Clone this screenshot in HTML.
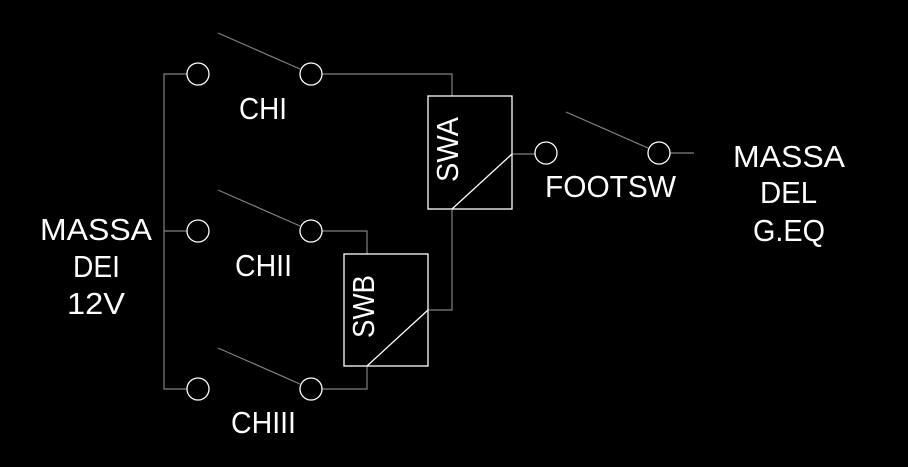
<!DOCTYPE html>
<html><head><meta charset="utf-8"><style>
html,body{margin:0;padding:0;background:#000;}
svg{display:block;}
text{font-family:"Liberation Sans",sans-serif;font-size:31px;fill:#fff;}
</style></head><body>
<svg width="908" height="467" viewBox="0 0 908 467" xmlns="http://www.w3.org/2000/svg">
<g stroke="#808080" stroke-width="1.2" fill="none">
<polyline points="187,74 164,74 164,389 187,389"/>
<line x1="164" y1="231" x2="187" y2="231"/>
<polyline points="322,74 452,74 452,96"/>
<polyline points="322,231 367,231 367,254"/>
<polyline points="322,389 367,389 367,366"/>
<polyline points="428,310 452,310 452,209"/>
<line x1="512" y1="154" x2="535" y2="154"/>
<line x1="670" y1="153" x2="694" y2="153"/>
<line x1="218" y1="33" x2="300" y2="69"/>
<line x1="218" y1="190" x2="300" y2="226"/>
<line x1="218" y1="348" x2="300" y2="384"/>
<line x1="566" y1="112" x2="648" y2="148"/>
</g>
<g stroke="#fff" stroke-width="1.3" fill="none">
<circle cx="198" cy="74" r="11"/><circle cx="311" cy="74" r="11"/>
<circle cx="198" cy="231" r="11"/><circle cx="311" cy="231" r="11"/>
<circle cx="198" cy="389" r="11"/><circle cx="311" cy="389" r="11"/>
<circle cx="546" cy="153" r="11"/><circle cx="659" cy="153" r="11"/>
<rect x="428" y="96" width="84" height="113"/>
<rect x="344" y="254" width="84" height="112"/>
<line x1="452" y1="209" x2="512" y2="154"/>
<line x1="367" y1="366" x2="428" y2="310"/>
</g>
<text x="239" y="119" textLength="48" lengthAdjust="spacingAndGlyphs">CHI</text>
<text x="235" y="276" textLength="57" lengthAdjust="spacingAndGlyphs">CHII</text>
<text x="231" y="433" textLength="65" lengthAdjust="spacingAndGlyphs">CHIII</text>
<text x="545" y="197" textLength="131" lengthAdjust="spacingAndGlyphs">FOOTSW</text>
<text x="733" y="167" textLength="112" lengthAdjust="spacingAndGlyphs">MASSA</text>
<text x="760" y="203" textLength="57" lengthAdjust="spacingAndGlyphs">DEL</text>
<text x="753" y="241" textLength="72" lengthAdjust="spacingAndGlyphs">G.EQ</text>
<text x="40" y="240" textLength="112" lengthAdjust="spacingAndGlyphs">MASSA</text>
<text x="73" y="277" textLength="47" lengthAdjust="spacingAndGlyphs">DEI</text>
<text x="67" y="314" textLength="58" lengthAdjust="spacingAndGlyphs">12V</text>
<text transform="translate(458,182) rotate(-90)" textLength="65" lengthAdjust="spacingAndGlyphs">SWA</text>
<text transform="translate(374,338) rotate(-90)" textLength="63" lengthAdjust="spacingAndGlyphs">SWB</text>
</svg>
</body></html>
